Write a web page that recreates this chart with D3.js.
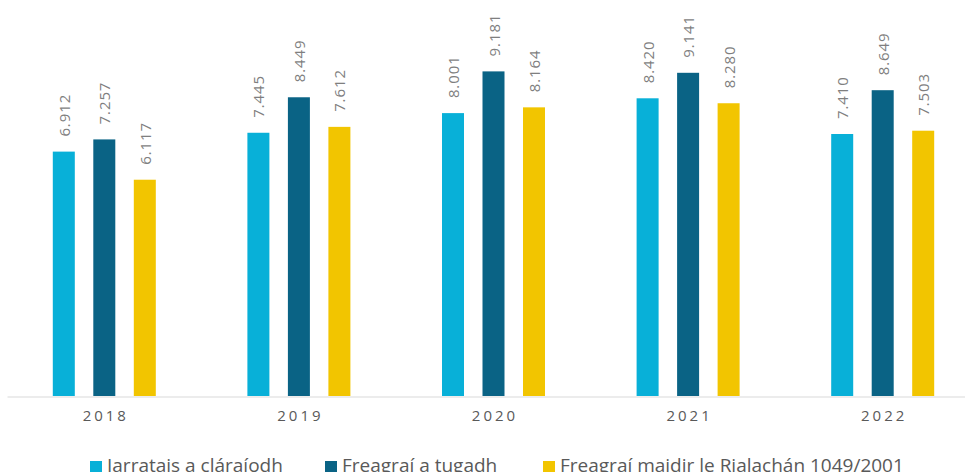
<!DOCTYPE html>
<html><head><meta charset="utf-8">
<script src="https://cdn.jsdelivr.net/npm/d3@7"></script>
<style>
html,body{margin:0;padding:0;background:#fff;overflow:hidden}
svg{display:block;font-family:"Open Sans",sans-serif}
</style></head>
<body><svg id="c" width="965" height="472"></svg>
<script>
const years = ["2018","2019","2020","2021","2022"];
const seriesNames = ["Iarratais a cláraíodh","Freagraí a tugadh","Freagraí maidir le Rialachán 1049/2001"];
const iarratais = [6.912, 7.445, 8.001, 8.420, 7.410];
const freagrai = [7.257, 8.449, 9.181, 9.141, 8.649];
const rialachan = [6.117, 7.612, 8.164, 8.280, 7.503];
const colors = ["#08B0D8","#0A6385","#F2C500"];

const seriesValues = [iarratais, freagrai, rialachan];
const svg = d3.select("#c");
const baseY = 396;
const x0 = d3.scaleBand().domain(years).range([7, 980]);
const x1 = d3.scalePoint().domain(seriesNames).range([-40.5, 40.5]);
const y = d3.scaleLinear().domain([0, 11.2]).range([baseY, 0]);
const barW = 22;
const fmt = d3.format(".3f");

// axis
const xAxis = d3.axisBottom(x0).tickSize(0).tickPadding(0);
const gx = svg.append("g").attr("transform", `translate(0,${baseY + 0.5})`).call(xAxis);
gx.select(".domain").attr("stroke", "#D9D9D9").attr("stroke-width", 1.2);
gx.selectAll("text").attr("fill", "#595959").attr("font-size", 15).attr("letter-spacing", "3px")
  .attr("font-family", "'Open Sans', sans-serif").attr("dy", "1.6em").attr("dx", "1.5px");

// bars
seriesNames.forEach((s, si) => {
  const g = svg.append("g");
  g.selectAll("rect").data(years).join("rect")
    .attr("x", d => x0(d) + x0.bandwidth() / 2 + x1(s) - barW / 2)
    .attr("y", (d, i) => y(seriesValues[si][i]))
    .attr("width", barW)
    .attr("height", (d, i) => baseY - y(seriesValues[si][i]))
    .attr("fill", colors[si]);
  g.selectAll("text").data(years).join("text")
    .attr("transform", (d, i) => {
      const cx = x0(d) + x0.bandwidth() / 2 + x1(s) + 6;
      const ty = y(seriesValues[si][i]) - 15;
      return `translate(${cx},${ty}) rotate(-90)`;
    })
    .attr("fill", "#7F7F7F").attr("font-size", 15).attr("letter-spacing", "0.9px")
    .text((d, i) => fmt(seriesValues[si][i]));
});

// legend
const legendX = [90, 325, 543];
const lg = svg.append("g");
seriesNames.forEach((s, i) => {
  lg.append("rect").attr("x", legendX[i]).attr("y", 461).attr("width", 12).attr("height", 12).attr("fill", colors[i]);
  lg.append("text").attr("x", legendX[i] + 17).attr("y", 472).attr("fill", "#595959")
    .attr("font-size", 19).text(s);
});
</script></body></html>
